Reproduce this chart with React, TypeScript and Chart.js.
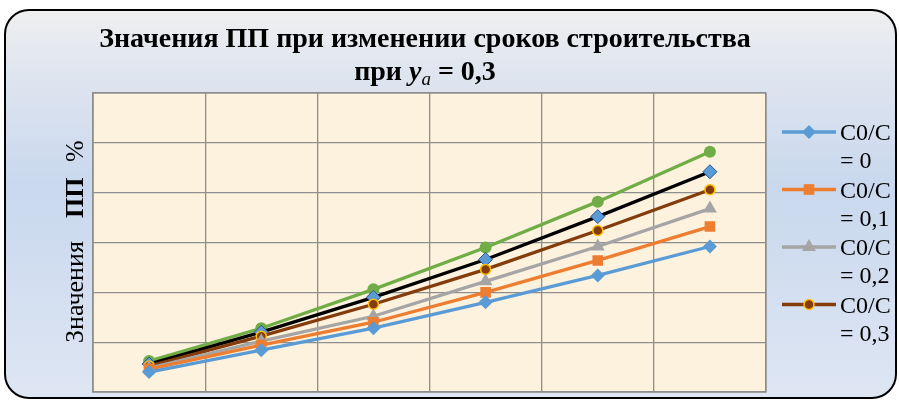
import React, { useEffect, useRef } from 'react';
import { Chart, registerables } from 'chart.js';

Chart.register(...registerables);

// ---- data ----
const categories = ['1', '2', '3', '4', '5', '6'];
const seriesNames = ['C0/C = 0', 'C0/C = 0,1', 'C0/C = 0,2', 'C0/C = 0,3', 'C0/C = 0,4', 'C0/C = 0,5'];
const valuesC00 = [4.0, 8.4, 12.8, 18.0, 23.4, 29.2];
const valuesC01 = [4.6, 9.4, 14.0, 20.0, 26.4, 33.2];
const valuesC02 = [4.8, 10.2, 15.2, 22.2, 29.2, 36.8];
const valuesC03 = [5.2, 11.2, 17.6, 24.6, 32.4, 40.6];
const valuesC04 = [5.6, 12.0, 19.0, 26.6, 35.2, 44.2];
const valuesC05 = [6.2, 12.8, 20.6, 29.0, 38.2, 48.2];
const yMin = 0;
const yMax = 60;
const yStep = 10;
const legendCount = 4;

const titleLine1 = 'Значения ПП при изменении сроков строительства';
const titleLine2 = ['при ', 'y', 'a', ' = 0,3'];
const yTitleParts = ['Значения', 'ПП', '%'];

const SERIF = "'Liberation Serif', 'Times New Roman', serif";
const GRID = '#8e8e8e';

function drawMarker(ctx: CanvasRenderingContext2D, style: string, x: number, y: number, r: number, fill: string, stroke: string, bw: number) {
  ctx.save();
  ctx.beginPath();
  if (style === 'rectRot') {
    ctx.moveTo(x - r, y);
    ctx.lineTo(x, y - r);
    ctx.lineTo(x + r, y);
    ctx.lineTo(x, y + r);
    ctx.closePath();
  } else if (style === 'rect') {
    const s = r * Math.SQRT1_2;
    ctx.rect(x - s, y - s, 2 * s, 2 * s);
  } else if (style === 'triangle') {
    ctx.moveTo(x, y - r);
    ctx.lineTo(x + r * Math.sin(Math.PI / 3), y + r / 2);
    ctx.lineTo(x - r * Math.sin(Math.PI / 3), y + r / 2);
    ctx.closePath();
  } else {
    ctx.arc(x, y, r, 0, Math.PI * 2);
  }
  ctx.fillStyle = fill;
  ctx.fill();
  if (bw > 0) {
    ctx.lineWidth = bw;
    ctx.strokeStyle = stroke;
    ctx.stroke();
  }
  ctx.restore();
}

const decorPlugin = {
  id: 'decor',
  beforeDraw(chart: any) {
    const { ctx, chartArea } = chart;
    ctx.save();
    // outer rounded box
    const g = ctx.createLinearGradient(0, 10, 0, 399);
    g.addColorStop(0, '#efefef');
    g.addColorStop(0.15, '#e0e6ef');
    g.addColorStop(0.45, '#c9d8ee');
    g.addColorStop(1, '#dee6f3');
    ctx.beginPath();
    ctx.roundRect(5, 10, 891, 388, 24);
    ctx.fillStyle = g;
    ctx.fill();
    ctx.lineWidth = 2;
    ctx.strokeStyle = '#000000';
    ctx.stroke();
    // plot background
    ctx.fillStyle = '#fdf2dd';
    ctx.fillRect(chartArea.left, chartArea.top, chartArea.right - chartArea.left, chartArea.bottom - chartArea.top);
    ctx.restore();
  },
  afterDraw(chart: any) {
    const { ctx, chartArea } = chart;
    ctx.save();
    // plot border
    ctx.strokeStyle = GRID;
    ctx.lineWidth = 1.3;
    ctx.strokeRect(chartArea.left, chartArea.top, chartArea.right - chartArea.left, chartArea.bottom - chartArea.top);

    // title
    ctx.fillStyle = '#000000';
    ctx.textBaseline = 'alphabetic';
    ctx.textAlign = 'left';
    const cx = 425;
    ctx.font = `bold 28px ${SERIF}`;
    const w1 = ctx.measureText(titleLine1).width;
    ctx.fillText(titleLine1, cx - w1 / 2, 47);

    const fonts = [`bold 28px ${SERIF}`, `italic bold 28px ${SERIF}`, `italic 19px ${SERIF}`, `bold 28px ${SERIF}`];
    const offs = [0, 0, 5, 0];
    const widths = titleLine2.map((t, i) => { ctx.font = fonts[i]; return ctx.measureText(t).width; });
    let x = cx - widths.reduce((a, b) => a + b, 0) / 2;
    titleLine2.forEach((t, i) => {
      ctx.font = fonts[i];
      ctx.fillText(t, x, 80 + offs[i]);
      x += widths[i];
    });

    // y axis title
    ctx.save();
    ctx.translate(83, 343);
    ctx.rotate(-Math.PI / 2);
    ctx.font = `26px ${SERIF}`;
    ctx.fillText(yTitleParts[0], 0, 0);
    ctx.font = `bold 26px ${SERIF}`;
    ctx.fillText(yTitleParts[1], 125, 0);
    ctx.font = `26px ${SERIF}`;
    ctx.fillText(yTitleParts[2], 181, 0);
    ctx.restore();

    // legend
    const dsets = chart.data.datasets;
    for (let i = 0; i < legendCount; i++) {
      const ds = dsets[i];
      const base = 140 + 57.5 * i;
      const ly = base - 8;
      ctx.beginPath();
      ctx.moveTo(782, ly);
      ctx.lineTo(836, ly);
      ctx.lineWidth = 3.3;
      ctx.strokeStyle = ds.borderColor;
      ctx.stroke();
      drawMarker(ctx, ds.pointStyle, 809, ly, ds.pointRadius, ds.pointBackgroundColor, ds.pointBorderColor, ds.pointBorderWidth);
      const [a, b] = String(ds.label).split(' = ');
      ctx.fillStyle = '#000000';
      ctx.font = `24px ${SERIF}`;
      ctx.fillText(a, 840, base);
      ctx.fillText('= ' + b, 840, base + 28);
    }
    ctx.restore();
  },
};

function mk(label: string, data: number[], line: string, style: string, r: number, fill: string, stroke: string, bw: number) {
  return {
    label,
    data,
    borderColor: line,
    backgroundColor: line,
    borderWidth: 3.3,
    pointStyle: style,
    pointRadius: r,
    pointHoverRadius: r,
    pointBackgroundColor: fill,
    pointBorderColor: stroke,
    pointBorderWidth: bw,
    tension: 0,
    fill: false,
  };
}

export default function App() {
  const ref = useRef<HTMLCanvasElement | null>(null);
  useEffect(() => {
    if (!ref.current) return;
    const chart = new Chart(ref.current, {
      type: 'line',
      data: {
        labels: categories,
        datasets: [
          mk(seriesNames[0], valuesC00, '#5b9bd5', 'rectRot', 7, '#5b9bd5', '#5b9bd5', 0),
          mk(seriesNames[1], valuesC01, '#ed7d31', 'rect', 7.5, '#ed7d31', '#ed7d31', 0),
          mk(seriesNames[2], valuesC02, '#a5a5a5', 'triangle', 8, '#a5a5a5', '#a5a5a5', 0),
          mk(seriesNames[3], valuesC03, '#843c0c', 'circle', 5, '#843c0c', '#ffc000', 1.5),
          mk(seriesNames[4], valuesC04, '#000000', 'rectRot', 7, '#5b9bd5', '#2f5597', 1),
          mk(seriesNames[5], valuesC05, '#70ad47', 'circle', 6, '#70ad47', '#70ad47', 0),
        ] as any,
      },
      options: {
        animation: false,
        responsive: false,
        maintainAspectRatio: false,
        layout: { padding: { left: 93, top: 93, right: 133, bottom: 7 } },
        plugins: {
          legend: { display: false },
          title: { display: false },
          tooltip: { enabled: false },
        },
        scales: {
          x: {
            offset: true,
            grid: { offset: true, color: GRID, lineWidth: 1.3, drawTicks: false },
            border: { display: true, color: GRID, width: 1.3 },
            ticks: { display: false },
          },
          y: {
            min: yMin,
            max: yMax,
            ticks: { display: false, stepSize: yStep },
            grid: { color: GRID, lineWidth: 1.3, drawTicks: false },
            border: { display: true, color: GRID, width: 1.3 },
          },
        },
      },
      plugins: [decorPlugin],
    });
    return () => chart.destroy();
  }, []);
  return (
    <div style={{ position: 'fixed', left: 0, top: 0, width: 899, height: 400, background: '#ffffff' }}>
      <canvas ref={ref} width={899} height={400} style={{ display: 'block', width: 899, height: 400 }} />
    </div>
  );
}
